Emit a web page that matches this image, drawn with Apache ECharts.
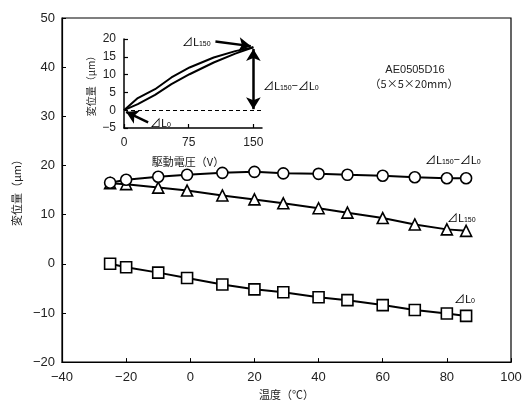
<!DOCTYPE html>
<html><head><meta charset="utf-8">
<script src="https://cdn.jsdelivr.net/npm/echarts@6/dist/echarts.min.js"></script>
<style>html,body{margin:0;padding:0;background:#fff}#c{width:526px;height:405px}</style>
</head><body><div id="c"></div>
<script>
// Main chart data
const temps = [-25, -20, -10, -1, 10, 20, 29, 40, 49, 60, 70, 80, 86];
const diffL = [16.5, 17.1, 17.7, 18.1, 18.5, 18.7, 18.4, 18.3, 18.1, 17.9, 17.6, 17.4, 17.4];
const L150 = [16.4, 16.2, 15.5, 14.9, 13.9, 13.1, 12.3, 11.3, 10.4, 9.3, 8.0, 7.0, 6.7];
const L0 = [0, -0.7, -1.8, -2.9, -4.2, -5.2, -5.8, -6.8, -7.4, -8.4, -9.4, -10.1, -10.6];
// Inset data (hysteresis loop)
const volts = [0, 16, 36, 55, 76, 104, 129, 150];
const upBranch = [0, 1.7, 4.3, 7.3, 10.1, 13.4, 15.9, 17.7];
const downBranch = [0, 3.4, 5.9, 9.2, 12.0, 14.8, 16.6, 17.7];
const insetXTicks = [0, 75, 150];

const NUM = '"Liberation Sans", Arial, sans-serif';
const CJK = '"Noto Sans CJK JP", sans-serif';
const minus = v => String(v).replace('-', '\u2212');
const pairs = (xs, ys) => xs.map((x, i) => [x, ys[i]]);

const chart = echarts.init(document.getElementById('c'), null, {renderer: 'canvas'});
const subRich = {
  n: {fontFamily: CJK, fontSize: 11, color: '#222', verticalAlign: 'bottom', lineHeight: 13},
  s: {fontFamily: NUM, fontSize: 7, color: '#222', verticalAlign: 'bottom', lineHeight: 11}
};
const lineStyleBlack = {color: '#000', width: 2};
function mainSeries(name, ys, sym, size) {
  return {
    name, type: 'line', xAxisIndex: 0, yAxisIndex: 0, data: pairs(temps, ys),
    symbol: sym, symbolSize: size, showAllSymbol: true,
    lineStyle: lineStyleBlack, itemStyle: {color: '#fff', borderColor: '#000', borderWidth: 1.6}
  };
}
const option = {
  animation: false,
  backgroundColor: '#fff',
  grid: [
    {left: 62, right: 15, top: 18, bottom: 38, show: true, borderColor: '#000', borderWidth: 1.2, backgroundColor: 'transparent'},
    {left: 124, top: 39, width: 138, height: 89}
  ],
  xAxis: [
    {type: 'value', gridIndex: 0, min: -40, max: 100, interval: 20,
     axisLine: {onZero: false, lineStyle: {color: '#000', width: 1.2}}, axisTick: {inside: true, length: 4, lineStyle: {color: '#000'}},
     splitLine: {show: false},
     axisLabel: {formatter: minus, color: '#222', fontFamily: NUM, fontSize: 13, margin: 9},
     name: '温度（℃）', nameLocation: 'middle', nameGap: 25, nameTextStyle: {fontFamily: CJK, fontSize: 11, color: '#222'}},
    {type: 'value', gridIndex: 1, min: 0, max: 160,
     axisLine: {onZero: false, lineStyle: {color: '#000', width: 1.5}},
     axisTick: {inside: true, length: 4, customValues: insetXTicks, lineStyle: {color: '#000', width: 1.2}},
     splitLine: {show: false},
     axisLabel: {customValues: insetXTicks, color: '#222', fontFamily: NUM, fontSize: 12, margin: 9},
     name: '駆動電圧（V）', nameLocation: 'middle', nameGap: 28, nameTextStyle: {fontFamily: CJK, fontSize: 11, color: '#222', padding: [0, 10, 0, 0]}}
  ],
  yAxis: [
    {type: 'value', gridIndex: 0, min: -20, max: 50, interval: 10,
     axisLine: {show: true, onZero: false, lineStyle: {color: '#000', width: 1.2}}, axisTick: {show: true, inside: true, length: 4, lineStyle: {color: '#000'}},
     splitLine: {show: false},
     axisLabel: {formatter: minus, color: '#222', fontFamily: NUM, fontSize: 13, margin: 7},
     name: '変位量（μm）', nameLocation: 'middle', nameGap: 39, nameTextStyle: {fontFamily: CJK, fontSize: 11, color: '#222'}},
    {type: 'value', gridIndex: 1, min: -5, max: 20, interval: 5,
     axisLine: {show: true, onZero: false, lineStyle: {color: '#000', width: 1.5}}, axisTick: {show: true, inside: true, length: 4, lineStyle: {color: '#000', width: 1.2}},
     splitLine: {show: false},
     axisLabel: {formatter: minus, color: '#222', fontFamily: NUM, fontSize: 12, margin: 8},
     name: '変位量（μm）', nameLocation: 'middle', nameGap: 28, nameTextStyle: {fontFamily: CJK, fontSize: 10, color: '#222'}}
  ],
  series: [
    mainSeries('L0', L0, 'rect', 11),
    mainSeries('L150', L150, 'triangle', 11),
    mainSeries('diff', diffL, 'circle', 11),
    {type: 'line', xAxisIndex: 1, yAxisIndex: 1, data: pairs(volts, upBranch), symbol: 'none',
     lineStyle: {color: '#000', width: 2}, z: 3,
     markLine: {silent: true, symbol: 'none', label: {show: false},
       lineStyle: {color: '#000', type: [4, 3], width: 1},
       data: [[{coord: [0, 0]}, {coord: [160, 0]}]]}},
    {type: 'line', xAxisIndex: 1, yAxisIndex: 1, data: pairs(volts, downBranch), symbol: 'none',
     lineStyle: {color: '#000', width: 2}, z: 3,
     markLine: {silent: true, symbol: ['none', 'arrow'], symbolSize: [11, 12], label: {show: false},
       lineStyle: {color: '#000', type: 'solid', width: 2.5},
       data: [
         [{coord: [106, 19.3]}, {coord: [147, 18.0]}],
         [{coord: [28, -3.4]}, {coord: [2.5, -0.5]}],
         [{coord: [150, 17.2], symbol: 'arrow'}, {coord: [150, 0.3], symbol: 'arrow'}]
       ]}}
  ],
  graphic: [
    {type: 'text', x: 415, y: 70, style: {text: 'AE0505D16', font: '11px ' + NUM, fill: '#222', align: 'center', verticalAlign: 'middle'}},
    {type: 'text', x: 414, y: 84, style: {text: '（5×5×20mm）', font: '11px ' + CJK, fill: '#222', align: 'center', verticalAlign: 'middle'}},
    {type: 'text', x: 425, y: 159, style: {text: '{n|⊿L}{s|150}{n|−⊿L}{s|0}', rich: subRich, verticalAlign: 'middle'}},
    {type: 'text', x: 447, y: 217, style: {text: '{n|⊿L}{s|150}', rich: subRich, verticalAlign: 'middle'}},
    {type: 'text', x: 454, y: 298, style: {text: '{n|⊿L}{s|0}', rich: subRich, verticalAlign: 'middle'}},
    {type: 'text', x: 182, y: 41, style: {text: '{n|⊿L}{s|150}', rich: subRich, verticalAlign: 'middle'}},
    {type: 'text', x: 150, y: 122, style: {text: '{n|⊿L}{s|0}', rich: subRich, verticalAlign: 'middle'}},
    {type: 'text', x: 263, y: 85, style: {text: '{n|⊿L}{s|150}{n|−⊿L}{s|0}', rich: subRich, verticalAlign: 'middle'}}
  ]
};
chart.setOption(option);
</script></body></html>
